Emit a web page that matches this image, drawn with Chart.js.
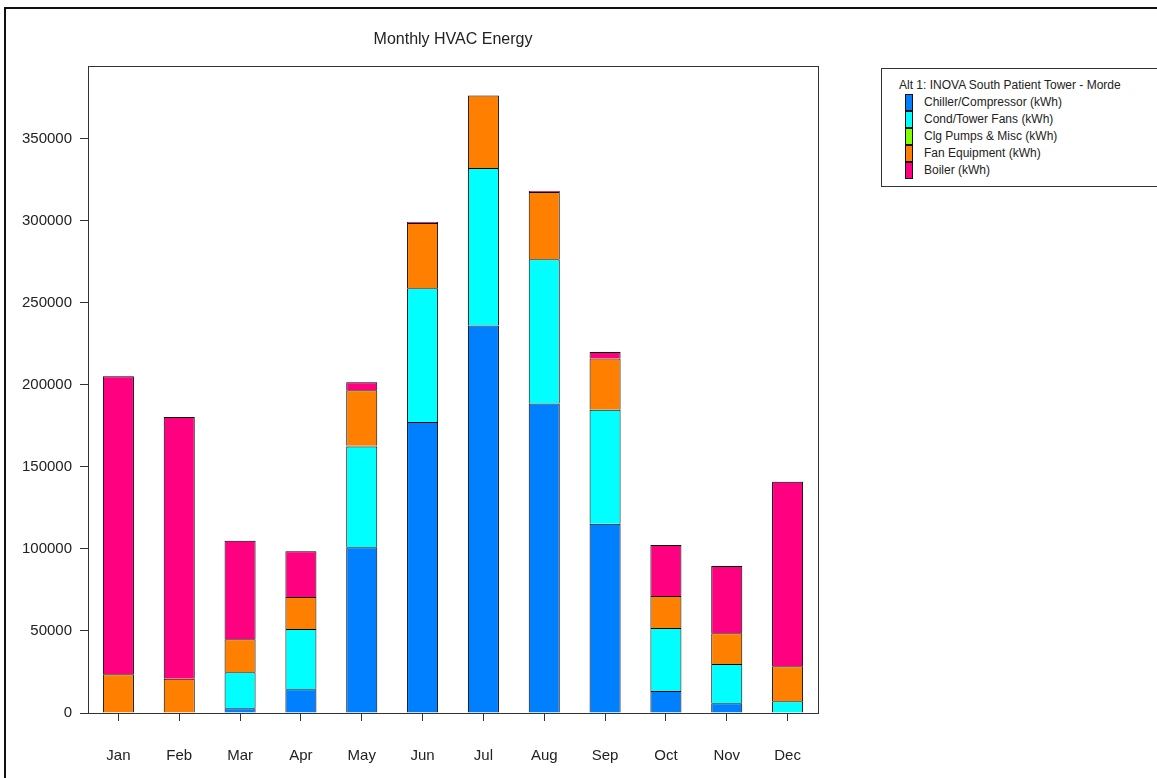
<!DOCTYPE html>
<html>
<head>
<meta charset="utf-8">
<script src="https://cdn.jsdelivr.net/npm/chart.js@4/dist/chart.umd.min.js"></script>
<style>
  html, body { margin: 0; padding: 0; background: #fff; }
  body { width: 1157px; height: 778px; position: relative; overflow: hidden; font-family: 'Liberation Sans', Arial, sans-serif; }
  #frame { position: absolute; left: 4px; top: 7px; width: 1200px; height: 820px; border: 2px solid #111; box-sizing: border-box; }
  #chart { position: absolute; left: 0; top: 0; }
  #legend { position: absolute; left: 881px; top: 68px; width: 300px; height: 119px; border: 1px solid #333; box-sizing: border-box; background: #fff; color: #222; font-size: 12px; }
  #legend .title { position: absolute; left: 17px; top: 9px; white-space: nowrap; }
  #legend .item { position: absolute; left: 23px; height: 17px; line-height: 17px; white-space: nowrap; }
  #legend .swatch { position: absolute; left: 0; top: 0; width: 8px; height: 17px; border: 1px solid #111; box-sizing: border-box; }
  #legend .label { position: absolute; left: 19px; top: 0; }
</style>
</head>
<body>
<div id="frame"></div>
<canvas id="chart" width="906" height="778"></canvas>
<div id="legend"></div>
<script>
// Monthly HVAC energy, kWh per end use
const months = ['Jan', 'Feb', 'Mar', 'Apr', 'May', 'Jun', 'Jul', 'Aug', 'Sep', 'Oct', 'Nov', 'Dec'];
const chiller  = [0, 0, 2900, 14500, 100900, 177200, 236100, 188600, 115300, 13400, 5900, 0];
const condFans = [0, 0, 21900, 36700, 61400, 81600, 95900, 87800, 69400, 38400, 24000, 7100];
const clgPumps = [0, 0, 0, 0, 500, 0, 0, 0, 0, 0, 0, 0];
const fanEquip = [23600, 20900, 20100, 19500, 33800, 39700, 44100, 41000, 31300, 19500, 18700, 21400];
const boiler   = [181500, 159400, 60000, 27900, 4900, 600, 0, 600, 3900, 31000, 41000, 112400];

const yTicks = [0, 50000, 100000, 150000, 200000, 250000, 300000, 350000];
const legendTitle = 'Alt 1: INOVA South Patient Tower - Morde';

const series = [
  { label: 'Chiller/Compressor (kWh)', data: chiller,  color: '#0080ff' },
  { label: 'Cond/Tower Fans (kWh)',    data: condFans, color: '#00ffff' },
  { label: 'Clg Pumps & Misc (kWh)',   data: clgPumps, color: '#80ff00' },
  { label: 'Fan Equipment (kWh)',      data: fanEquip, color: '#ff8000' },
  { label: 'Boiler (kWh)',             data: boiler,   color: '#ff0080' }
];

// box around the plot area
const plotFrame = {
  id: 'plotFrame',
  afterDraw(chart) {
    const a = chart.chartArea;
    const ctx = chart.ctx;
    ctx.save();
    ctx.strokeStyle = '#333';
    ctx.lineWidth = 1;
    ctx.strokeRect(Math.round(a.left) + 0.5, Math.round(a.top) + 0.5, Math.round(a.right - a.left), Math.round(a.bottom - a.top));
    ctx.restore();
  }
};

const font = "'Liberation Sans', Arial, sans-serif";

new Chart(document.getElementById('chart'), {
  type: 'bar',
  data: {
    labels: months,
    datasets: series.map(s => ({
      label: s.label,
      data: s.data,
      backgroundColor: s.color,
      borderColor: '#000',
      borderWidth: 1,
      barPercentage: 0.51,
      categoryPercentage: 1
    }))
  },
  options: {
    responsive: false,
    animation: false,
    layout: { padding: { left: 0, right: 88, top: 0, bottom: 0 } },
    plugins: {
      legend: { display: false },
      tooltip: { enabled: false },
      title: {
        display: true,
        fullSize: false, // centre over the plot area
        text: 'Monthly HVAC Energy',
        color: '#222',
        font: { family: font, size: 16, weight: 'normal' },
        padding: { top: 30, bottom: 17 }
      }
    },
    scales: {
      x: {
        stacked: true,
        border: { display: false },
        grid: { offset: false, drawOnChartArea: false, drawTicks: true, tickLength: 8, color: '#333' },
        ticks: { color: '#222', font: { family: font, size: 15 }, padding: 26 },
        afterFit(scale) { scale.height = 65; }
      },
      y: {
        stacked: true,
        min: 0,
        max: 394000,
        border: { display: false },
        grid: { drawOnChartArea: false, drawTicks: true, tickLength: 8, color: '#333' },
        ticks: {
          color: '#222',
          font: { family: font, size: 15 },
          padding: 8,
          callback: v => String(v)
        },
        afterBuildTicks(scale) {
          scale.ticks = yTicks.map(v => ({ value: v }));
        },
        afterFit(scale) { scale.width = 88; }
      }
    }
  },
  plugins: [plotFrame]
});

// legend box built from the same series
const legend = document.getElementById('legend');
const t = document.createElement('div');
t.className = 'title';
t.textContent = legendTitle;
legend.appendChild(t);
series.forEach((s, i) => {
  const item = document.createElement('div');
  item.className = 'item';
  item.style.top = (25 + i * 17) + 'px';
  item.innerHTML = '<span class="swatch" style="background:' + s.color + '"></span><span class="label"></span>';
  item.querySelector('.label').textContent = s.label;
  legend.appendChild(item);
});
</script>
</body>
</html>
